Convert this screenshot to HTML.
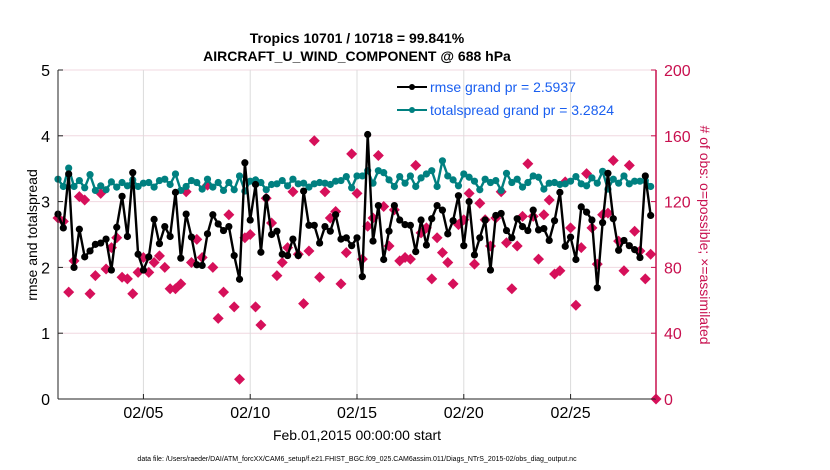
<!DOCTYPE html>
<html><head><meta charset="utf-8"><style>
html,body{margin:0;padding:0;background:#fff;}
svg{display:block;font-family:"Liberation Sans",Arial,sans-serif;}
</style></head><body>
<svg id="chart" width="830" height="470" viewBox="0 0 830 470">
<g id="grid"></g>
<g id="series"></g>
<g id="axes"></g>
<text x="357" y="43" text-anchor="middle" font-size="14" font-weight="bold">Tropics 10701 / 10718 = 99.841%</text>
<text x="357" y="61" text-anchor="middle" font-size="14" font-weight="bold">AIRCRAFT_U_WIND_COMPONENT @ 688 hPa</text>
<text transform="translate(37,235) rotate(-90)" text-anchor="middle" font-size="14">rmse and totalspread</text>
<text transform="translate(700,235) rotate(90)" text-anchor="middle" font-size="14" fill="#c8104f"># of obs: o=possible; ×=assimilated</text>
<text x="357" y="440" text-anchor="middle" font-size="14">Feb.01,2015 00:00:00 start</text>
<text x="357" y="461" text-anchor="middle" font-size="7">data file: /Users/raeder/DAI/ATM_forcXX/CAM6_setup/f.e21.FHIST_BGC.f09_025.CAM6assim.011/Diags_NTrS_2015-02/obs_diag_output.nc</text>
<g>
<line x1="397" y1="87" x2="427" y2="87" stroke="#000" stroke-width="2"/>
<circle cx="412" cy="87" r="3" fill="#000"/>
<text x="430" y="92" font-size="14" fill="#1a5ff0">rmse grand pr = 2.5937</text>
<line x1="397" y1="110" x2="427" y2="110" stroke="#008080" stroke-width="2"/>
<circle cx="412" cy="110" r="3" fill="#008080"/>
<text x="430" y="115" font-size="14" fill="#1a5ff0">totalspread grand pr = 3.2824</text>
</g>
</svg>
<script>
var xTickLabels = ["02/05","02/10","02/15","02/20","02/25"];
var xTickDays = [4,9,14,19,24];
var yTicks = [0,1,2,3,4,5];
var rTicks = [0,40,80,120,160,200];
var rmse = [2.81,2.60,3.42,2.00,2.58,2.16,2.25,2.35,2.37,2.43,1.96,2.61,3.08,2.47,3.44,2.20,1.96,2.16,2.73,2.36,2.62,2.47,3.14,2.14,2.81,2.46,2.04,2.03,2.51,2.80,
2.66,2.56,2.62,2.18,1.82,3.59,2.72,3.26,2.23,3.06,2.50,2.55,2.20,2.18,2.43,2.18,3.16,2.64,2.64,2.37,2.62,2.55,2.80,2.43,2.45,2.33,2.45,1.86,
4.02,2.40,2.94,2.12,2.55,2.94,2.72,2.65,2.64,2.24,2.72,2.34,2.74,2.94,2.87,2.51,2.71,3.09,2.33,3.00,2.19,2.45,2.72,1.96,2.79,2.82,2.56,2.45,
2.74,2.62,2.56,2.87,2.57,2.59,2.41,2.71,3.14,2.32,2.46,2.12,2.92,2.84,2.72,1.69,2.68,3.43,2.74,2.26,2.41,2.33,2.27,2.15,3.39,2.79];
var spread = [3.34,3.23,3.51,3.23,3.32,3.21,3.41,3.17,3.24,3.18,3.30,3.22,3.29,3.24,3.33,3.23,3.28,3.29,3.22,3.32,3.34,3.26,3.42,3.17,3.23,3.32,3.29,3.19,3.34,3.22,
3.29,3.17,3.29,3.18,3.39,3.16,3.31,3.33,3.29,3.18,3.26,3.27,3.32,3.24,3.34,3.27,3.28,3.22,3.27,3.29,3.28,3.26,3.31,3.32,3.38,3.21,3.39,3.39,
3.47,3.28,3.47,3.44,3.33,3.23,3.38,3.28,3.39,3.23,3.36,3.42,3.47,3.23,3.62,3.39,3.33,3.24,3.42,3.37,3.31,3.18,3.34,3.29,3.32,3.17,3.43,3.29,
3.34,3.22,3.29,3.39,3.37,3.19,3.28,3.29,3.26,3.27,3.31,3.38,3.27,3.24,3.36,3.28,3.46,3.19,3.34,3.28,3.39,3.27,3.31,3.31,3.32,3.23];
var obsCount = [110,108,65,84,123,121,64,75,125,79,92,98,74,73,64,77,86,77,83,87,80,67,67,70,126,83,97,86,130,80,
49,65,112,56,12,98,100,56,45,122,107,75,83,92,126,88,58,90,157,74,126,110,114,70,89,149,125,85,
105,110,148,117,93,115,84,86,85,142,101,104,73,98,89,83,70,106,109,125,82,119,109,93,110,126,95,67,
93,111,143,111,85,112,121,76,78,132,104,57,92,137,104,82,112,113,145,96,78,142,102,90,73,88,0];

var L=58,R=656,T=70,B=399,DAYS=28;
function xs(d){return L+(R-L)*d/DAYS;}
function ys(v){return B-(B-T)*v/5;}
function yr(v){return B-(B-T)*v/200;}
function dayOf(i){return i*0.25;}
var NS="http://www.w3.org/2000/svg";
function mk(tag,attrs,parent){var e=document.createElementNS(NS,tag);for(var k in attrs)e.setAttribute(k,attrs[k]);parent.appendChild(e);return e;}
var grid=document.getElementById('grid'),ser=document.getElementById('series'),ax=document.getElementById('axes');

yTicks.forEach(function(v){
  var g=mk('line',{x1:L,x2:R,y1:ys(v),y2:ys(v),stroke:'#f0d8e0','stroke-width':1},grid);
  
  
  var t=mk('text',{x:L-8,y:ys(v)+6,'text-anchor':'end','font-size':16},ax);
  t.textContent=v;
  
  
  var tk=mk('line',{x1:L,x2:L+5,y1:ys(v),y2:ys(v),stroke:'#222'},ax);
  
  
});
rTicks.forEach(function(v){
  var t=mk('text',{x:R+8,y:yr(v)+6,'font-size':16,fill:'#c8104f'},ax);
  t.textContent=v;
  
  
  var tk=mk('line',{x1:R-5,x2:R,y1:yr(v),y2:yr(v),stroke:'#c8104f'},ax);
  
  
});
xTickDays.forEach(function(d,i){
  var g=mk('line',{x1:xs(d),x2:xs(d),y1:T,y2:B,stroke:'#dcdcdc','stroke-width':1},grid);
  
  
  var t=mk('text',{x:xs(d),y:418,'text-anchor':'middle','font-size':16},ax);
  t.textContent=xTickLabels[i];
  
  
  var tk=mk('line',{x1:xs(d),x2:xs(d),y1:B,y2:B-5,stroke:'#222'},ax);
  
  
});
var la=mk('line',{x1:L,x2:L,y1:T,y2:B,stroke:'#222','stroke-width':1},ax);


var ba=mk('line',{x1:L,x2:R,y1:B,y2:B,stroke:'#222','stroke-width':1},ax);


var ra=mk('line',{x1:R,x2:R,y1:T,y2:B,stroke:'#c8104f','stroke-width':1.5},ax);



obsCount.forEach(function(v,i){
  var x=xs(dayOf(i)),y=yr(v),s=5.5;
  var p=mk('polygon',{points:(x)+','+(y-s)+' '+(x+s)+','+y+' '+x+','+(y+s)+' '+(x-s)+','+y,fill:'#d6105a'},ser);
  
  
});
function drawLine(arr,color,name){
  var pts=arr.map(function(v,i){return xs(dayOf(i)).toFixed(1)+','+ys(v).toFixed(1);}).join(' ');
  var pl=mk('polyline',{points:pts,fill:'none',stroke:color,'stroke-width':2.4,'stroke-linejoin':'round'},ser);
  
  
  arr.forEach(function(v,i){
    var c=mk('circle',{cx:xs(dayOf(i)),cy:ys(v),r:3.6,fill:color},ser);
    
    
  });
}
drawLine(spread,'#008080','totalspread');
drawLine(rmse,'#000000','rmse');
</script>
</body></html>
